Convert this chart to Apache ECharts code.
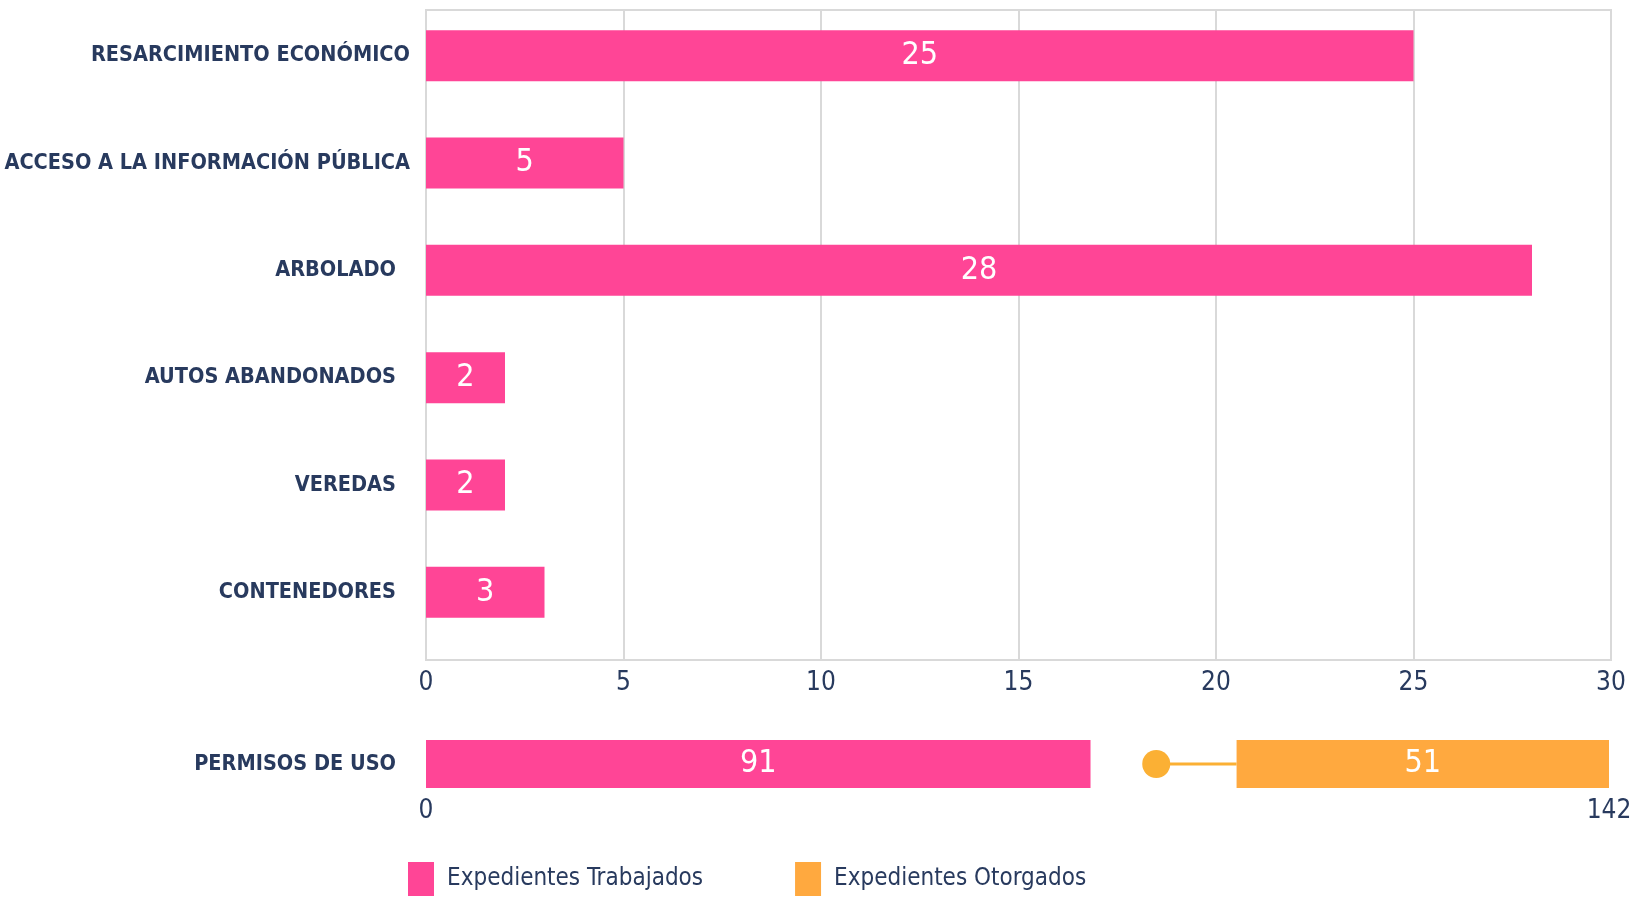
<!DOCTYPE html>
<html>
<head>
<meta charset="utf-8">
<script src="https://cdn.jsdelivr.net/npm/echarts@6/dist/echarts.min.js"></script>
<style>
  html, body { margin: 0; padding: 0; background: #fff; }
  #chart { width: 1639px; height: 902px; }
</style>
</head>
<body>
<div id="chart"></div>
<script>
var categorias = ['RESARCIMIENTO ECONÓMICO', 'ACCESO A LA INFORMACIÓN PÚBLICA', 'ARBOLADO', 'AUTOS ABANDONADOS', 'VEREDAS', 'CONTENEDORES'];
var trabajados = [25, 5, 28, 2, 2, 3];
var ticksSup = [0, 5, 10, 15, 20, 25, 30];

var permisosCat = ['PERMISOS DE USO'];
var permisosTrabajados = [91];
var permisosOtorgados = [51];
var ticksInf = [0, 142];

var ROSA = '#FF4596';
var NARANJA = '#FFA93F';
var PUNTO = '#FBB034';
var AZUL = '#283A5E';
var GRIS = '#D9D9D9';
var FUENTE = "'Liberation Sans Narrow', 'DejaVu Sans Condensed', sans-serif";

// espacio visual entre las dos barras de permisos (no es dato)
var hueco = 20;
var totalPermisos = permisosTrabajados[0] + permisosOtorgados[0];
var maxInf = totalPermisos + hueco;

var myChart = echarts.init(document.getElementById('chart'));

var catData = categorias.map(function (c, i) {
    return { value: c, textStyle: { padding: i < 2 ? [0, 0, 0, 0] : [0, 14, 0, 0] } };
});

var option = {
    animation: false,
    legend: {
        data: ['Expedientes Trabajados', 'Expedientes Otorgados'],
        left: 403,
        top: 857,
        icon: 'rect',
        itemWidth: 26,
        itemHeight: 34,
        itemGap: 92,
        textStyle: { fontFamily: FUENTE, fontSize: 24, color: AZUL, padding: [12, 0, 0, 8] }
    },
    grid: [
        { left: 426, right: 28, top: 2, height: 644, outerBoundsMode: 'none' },
        { left: 426, right: 28, top: 10, height: 650, show: true, borderColor: GRIS, borderWidth: 2, outerBoundsMode: 'none' },
        { left: 426, right: 30, top: 740, height: 48, outerBoundsMode: 'none' }
    ],
    xAxis: [
        { gridIndex: 0, type: 'value', min: 0, max: 30, interval: 5, show: false },
        {
            gridIndex: 1, type: 'value', min: 0, max: 30, interval: 5,
            axisLine: { show: false },
            axisTick: { show: false },
            splitLine: { lineStyle: { color: GRIS, width: 2 } },
            axisLabel: {
                margin: 10,
                fontFamily: FUENTE, fontSize: 26, color: AZUL,
                formatter: function (v) { return ticksSup.indexOf(v) > -1 ? String(v) : ''; }
            }
        },
        {
            gridIndex: 2, type: 'value', min: 0, max: maxInf, interval: maxInf,
            axisLine: { show: false },
            axisTick: { show: false },
            splitLine: { show: false },
            axisLabel: {
                margin: 10,
                fontFamily: FUENTE, fontSize: 26, color: AZUL,
                formatter: function (v) { return v === 0 ? String(ticksInf[0]) : String(ticksInf[1]); }
            }
        }
    ],
    yAxis: [
        {
            gridIndex: 0, type: 'category', inverse: true, data: catData,
            axisLine: { show: false },
            axisTick: { show: false },
            axisLabel: {
                margin: 16,
                fontFamily: FUENTE, fontSize: 21.5, fontWeight: 'bold', color: AZUL
            }
        },
        { gridIndex: 1, type: 'category', data: [''], show: false },
        {
            gridIndex: 2, type: 'category', data: permisosCat,
            axisLine: { show: false },
            axisTick: { show: false },
            axisLabel: {
                margin: 30,
                fontFamily: FUENTE, fontSize: 21.5, fontWeight: 'bold', color: AZUL
            }
        }
    ],
    series: [
        {
            name: 'Expedientes Trabajados',
            type: 'bar',
            xAxisIndex: 0, yAxisIndex: 0,
            barWidth: 51,
            itemStyle: { color: ROSA },
            label: {
                show: true, position: 'inside', color: '#fff',
                fontFamily: FUENTE, fontSize: 32
            },
            data: trabajados
        },
        {
            name: 'Expedientes Trabajados',
            type: 'bar',
            xAxisIndex: 2, yAxisIndex: 2,
            stack: 'permisos',
            barWidth: 48,
            itemStyle: { color: ROSA },
            label: {
                show: true, position: 'inside', color: '#fff',
                fontFamily: FUENTE, fontSize: 32
            },
            data: permisosTrabajados
        },
        {
            name: 'hueco',
            type: 'bar',
            xAxisIndex: 2, yAxisIndex: 2,
            stack: 'permisos',
            barWidth: 48,
            itemStyle: { color: 'rgba(0,0,0,0)' },
            silent: true,
            data: [hueco]
        },
        {
            name: 'Expedientes Otorgados',
            type: 'bar',
            xAxisIndex: 2, yAxisIndex: 2,
            stack: 'permisos',
            barWidth: 48,
            itemStyle: { color: NARANJA },
            label: {
                show: true, position: 'inside', color: '#fff',
                fontFamily: FUENTE, fontSize: 32
            },
            data: permisosOtorgados
        },
        {
            name: 'conector',
            type: 'line',
            xAxisIndex: 2, yAxisIndex: 2,
            z: 5,
            lineStyle: { color: PUNTO, width: 3 },
            itemStyle: { color: PUNTO },
            data: [
                { value: [permisosTrabajados[0] + hueco * 0.45, permisosCat[0]], symbol: 'circle', symbolSize: 28 },
                { value: [permisosTrabajados[0] + hueco, permisosCat[0]], symbol: 'none' }
            ]
        }
    ]
};

myChart.setOption(option);
</script>
</body>
</html>
